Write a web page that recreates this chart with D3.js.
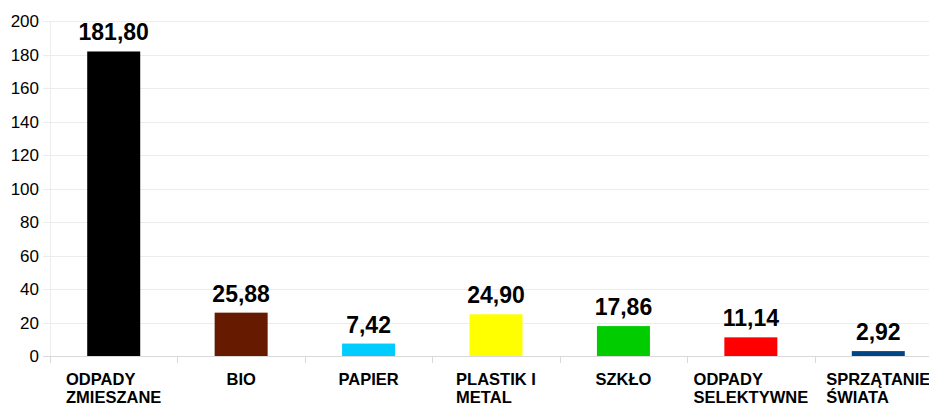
<!DOCTYPE html>
<html>
<head>
<meta charset="utf-8">
<script src="https://cdn.jsdelivr.net/npm/d3@7"></script>
<style>
  body { margin: 0; background: #fff; }
  svg { display: block; font-family: "Liberation Sans", Arial, sans-serif; }
</style>
</head>
<body>
<div id="chart-container"></div>
<script>
// waste categories, amounts
const categories = [
    ["ODPADY", "ZMIESZANE"],
    ["BIO"],
    ["PAPIER"],
    ["PLASTIK I", "METAL"],
    ["SZKŁO"],
    ["ODPADY", "SELEKTYWNE"],
    ["SPRZĄTANIE", "ŚWIATA"]
];
const values = [181.80, 25.88, 7.42, 24.90, 17.86, 11.14, 2.92];
const barColors = ["#000000", "#661a00", "#00ccff", "#ffff00", "#00cc00", "#ff0000", "#004586"];
const yTicks = [0, 20, 40, 60, 80, 100, 120, 140, 160, 180, 200];

const svgWidth = 929;
const svgHeight = 403;
const plotLeft = 50, plotTop = 21, plotBottom = 356, plotRight = 942;

const svg = d3.select("#chart-container")
    .append("svg")
    .attr("width", svgWidth)
    .attr("height", svgHeight);

const scaleX = d3.scaleBand()
    .domain(d3.range(values.length))
    .range([plotLeft, plotRight])
    .paddingInner(0)
    .paddingOuter(0);

const scaleY = d3.scaleLinear()
    .domain([0, 200])
    .range([plotBottom, plotTop]);

// horizontal grid
svg.append("g")
    .selectAll("line")
    .data(yTicks)
    .enter()
    .append("line")
    .attr("x1", plotLeft - 7)
    .attr("x2", svgWidth)
    .attr("y1", d => Math.round(scaleY(d)) + 0.5)
    .attr("y2", d => Math.round(scaleY(d)) + 0.5)
    .attr("stroke", d => d === 0 ? "#d9d9d9" : "#ececec")
    .attr("stroke-width", 1);

// y tick labels
svg.append("g")
    .selectAll("text")
    .data(yTicks)
    .enter()
    .append("text")
    .attr("x", 39)
    .attr("y", d => scaleY(d) + 6)
    .attr("text-anchor", "end")
    .attr("font-size", "17px")
    .attr("fill", "#000")
    .text(d => d);

// category separators below the axis
const seps = d3.range(values.length + 1).map(i => plotLeft + i * scaleX.bandwidth());
svg.append("g")
    .selectAll("line")
    .data(seps)
    .enter()
    .append("line")
    .attr("x1", d => Math.round(d) + 0.5)
    .attr("x2", d => Math.round(d) + 0.5)
    .attr("y1", plotBottom)
    .attr("y2", plotBottom + 7)
    .attr("stroke", "#d9d9d9");

svg.append("line")
    .attr("x1", plotLeft + 0.5).attr("x2", plotLeft + 0.5)
    .attr("y1", plotTop).attr("y2", plotBottom)
    .attr("stroke", "#ececec");

const barW = 53;

svg.append("g")
    .selectAll("rect")
    .data(values)
    .enter()
    .append("rect")
    .attr("x", (d, i) => scaleX(i) + scaleX.bandwidth() / 2 - barW / 2)
    .attr("y", d => scaleY(d))
    .attr("width", barW)
    .attr("height", d => plotBottom - scaleY(d))
    .attr("fill", (d, i) => barColors[i]);

// value labels
svg.append("g")
    .selectAll("text")
    .data(values)
    .enter()
    .append("text")
    .attr("x", (d, i) => scaleX(i) + scaleX.bandwidth() / 2)
    .attr("y", d => scaleY(d) - 11)
    .attr("text-anchor", "middle")
    .attr("font-size", "23px")
    .attr("font-weight", "bold")
    .text(d => d.toFixed(2).replace(".", ","));

// category labels: lines left aligned, block centred
categories.forEach(function(lines, i) {
    const cx = scaleX(i) + scaleX.bandwidth() / 2;
    const t = svg.append("text")
        .attr("font-size", "16.5px")
        .attr("font-weight", "bold")
        .attr("text-anchor", "start");
    lines.forEach(function(line, j) {
        t.append("tspan").attr("y", 385 + j * 18).text(line);
    });
    let maxW = 0;
    t.selectAll("tspan").each(function() {
        maxW = Math.max(maxW, this.getComputedTextLength());
    });
    t.selectAll("tspan").attr("x", cx - maxW / 2);
});
</script>
</body>
</html>
